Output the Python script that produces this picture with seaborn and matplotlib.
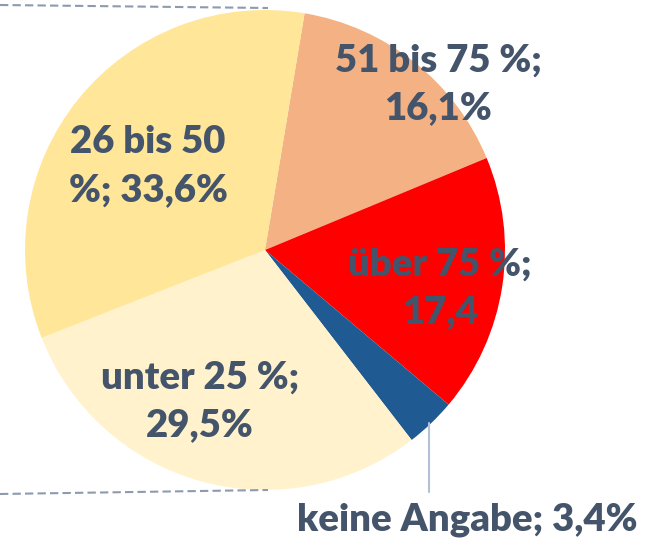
import matplotlib
matplotlib.use("Agg")
import matplotlib.pyplot as plt
import seaborn as sns

sns.set_theme(style="white")
plt.rcParams['font.family'] = ['Lato', 'DejaVu Sans']

categories = ["51 bis 75 %", "über 75 %", "keine Angabe", "unter 25 %", "26 bis 50 %"]
values = [16.1, 17.4, 3.4, 29.5, 33.6]
labels = ["51 bis 75 %;\n16,1%", "über 75 %;\n17,4", "keine Angabe; 3,4%",
          "unter 25 %;\n29,5%", "26 bis 50\n%; 33,6%"]
colors = ["#F4B183", "#FF0000", "#1F5A92", "#FFF2CC", "#FFE699"]

W, H = 657, 540
fig = plt.figure(figsize=(W / 100, H / 100), dpi=100)
ax = fig.add_axes([0, 0, 1, 1])
ax.set_xlim(0, W)
ax.set_ylim(0, H)
ax.set_aspect("equal")
ax.axis("off")

cx, cy, r = 265, H - 250, 240
wedges, _ = ax.pie(values, colors=colors, startangle=80.5, counterclock=False,
                   center=(cx, cy), radius=r, frame=True,
                   wedgeprops=dict(linewidth=0))
ax.set_xlim(0, W)
ax.set_ylim(0, H)
ax.axis("off")

# dashed connector lines
ax.plot([0, 268], [H - 5, H - 8], ls=(0, (4, 2)), color="#8C9BB0", lw=1.5)
ax.plot([0, 268], [H - 494, H - 490], ls=(0, (4, 2)), color="#8C9BB0", lw=1.5)
# leader line
ax.plot([429, 429], [H - 423, H - 492], color="#B4C0D3", lw=1.5)

pos = [(438, 84), (440, 288), (467, 520), (200, 401), (148, 166)]
tc = "#44546A"
for (x, y), lab in zip(pos, labels):
    ax.text(x, H - y, lab, ha="center", va="center", fontsize=27.5,
            fontweight="heavy", color=tc, linespacing=1.48)

fig.savefig("out.png", dpi=100)
